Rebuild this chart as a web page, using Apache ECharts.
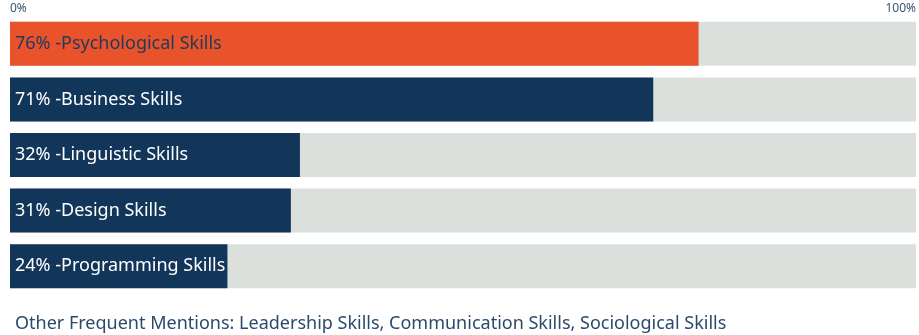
<!DOCTYPE html>
<html>
<head>
<meta charset="utf-8">
<script src="https://cdn.jsdelivr.net/npm/echarts@6/dist/echarts.min.js"></script>
<style>
  html, body { margin: 0; padding: 0; background: #ffffff; }
  #chart { width: 919px; height: 335px; }
</style>
</head>
<body>
<div id="chart"></div>
<script>
// Skill categories, top to bottom
const categories = [
  'Psychological Skills',
  'Business Skills',
  'Linguistic Skills',
  'Design Skills',
  'Programming Skills'
];
// Share of mentions, percent
const values = [76, 71, 32, 31, 24];
// Axis end labels
const tickLabels = ['0%', '100%'];
const footnote = 'Other Frequent Mentions: Leadership Skills, Communication Skills, Sociological Skills';

const ORANGE = '#E8532B';
const NAVY = '#12365A';
const TRACK = '#DCE0DC';
const FONT = '"Noto Sans", "Open Sans", sans-serif';

const chart = echarts.init(document.getElementById('chart'));

chart.setOption({
  animation: false,
  textStyle: { fontFamily: FONT },
  grid: { left: 10, right: 3, top: 16, bottom: 41, containLabel: false },
  title: {
    text: footnote,
    left: 10,
    top: 310,
    textStyle: { fontFamily: FONT, fontSize: 18, fontWeight: 'normal', color: '#2B4A6B' }
  },
  xAxis: {
    type: 'value',
    position: 'top',
    min: 0,
    max: 100,
    interval: 100,
    axisLine: { show: false },
    axisTick: { show: false },
    splitLine: { show: false },
    axisLabel: {
      margin: 1,
      fontSize: 12,
      color: '#3A5470',
      fontFamily: FONT,
      alignMinLabel: 'left',
      alignMaxLabel: 'right',
      formatter: v => (v === 0 ? tickLabels[0] : tickLabels[1])
    }
  },
  yAxis: {
    type: 'category',
    inverse: true,
    data: categories,
    axisLine: { show: false },
    axisTick: { show: false },
    axisLabel: { show: false },
    splitLine: { show: false }
  },
  series: [{
    type: 'bar',
    barWidth: 44,
    showBackground: true,
    backgroundStyle: { color: TRACK },
    data: values.map((v, i) => ({
      value: v,
      itemStyle: { color: i === 0 ? ORANGE : NAVY },
      label: { color: i === 0 ? '#1E3A5C' : '#FFFFFF' }
    })),
    label: {
      show: true,
      position: 'insideLeft',
      distance: 5,
      fontSize: 18,
      fontFamily: FONT,
      formatter: p => p.value + '% -' + categories[p.dataIndex]
    }
  }]
});
</script>
</body>
</html>
